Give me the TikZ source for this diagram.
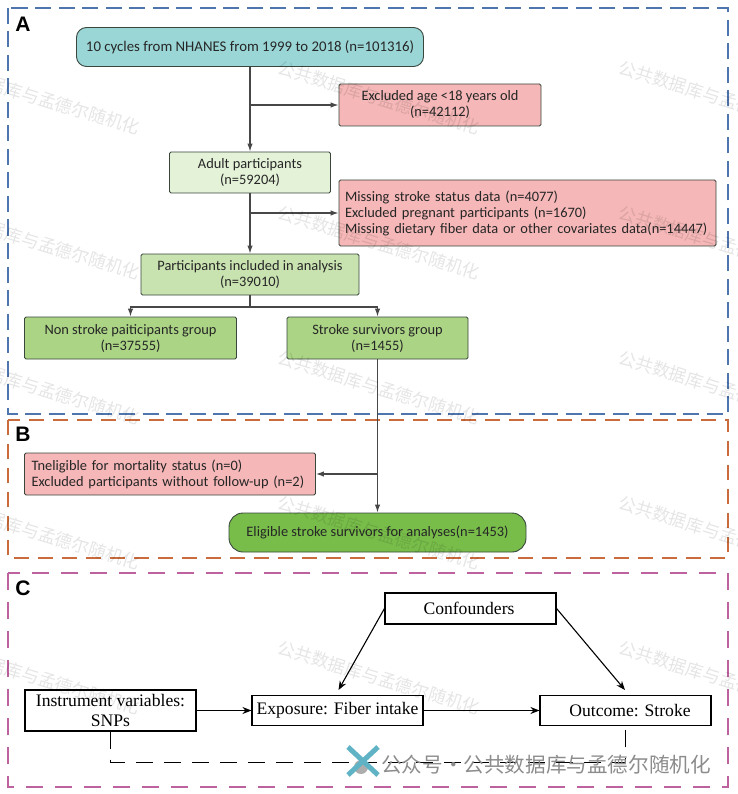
\documentclass[tikz,border=0pt]{standalone}
\usepackage{fontspec}
\setmainfont{Carlito}
\newfontfamily\timesfont{Liberation Serif}
\newfontfamily\labelfont{Liberation Sans}
\newfontfamily\cjkfont{Noto Sans CJK SC}
\usetikzlibrary{arrows.meta,calc}
\definecolor{framea}{HTML}{4F75AE}
\definecolor{frameb}{HTML}{C96B3C}
\definecolor{framec}{HTML}{BD619F}
\definecolor{fillstart}{HTML}{9BD6D6}
\definecolor{fillexcl}{HTML}{F5B7B7}
\definecolor{filladult}{HTML}{E4F2D8}
\definecolor{fillincl}{HTML}{C8E2B0}
\definecolor{fillgroup}{HTML}{ABD585}
\definecolor{fillfinal}{HTML}{78BD4A}
\definecolor{edgecol}{HTML}{38463C}
\definecolor{logoblue}{HTML}{5FB3C4}
\tikzset{
  panel/.style={line width=1.1pt,dash pattern=on 16pt off 7.5pt},
  panellabel/.style={font=\labelfont\bfseries\fontsize{21}{21}\selectfont,anchor=center},
  flowbox/.style={draw=edgecol,line width=.9pt,rounded corners=1.5pt,align=center,inner sep=0pt,
    text=black!85,font=\fontsize{14.4}{16}\selectfont},
  mrbox/.style={draw=black,line width=1.1pt,align=center,inner sep=0pt,
    font=\timesfont\fontsize{17.6}{20.5}\selectfont},
  flowline/.style={draw=black!72,line width=1.2pt},
  flowarrow/.style={flowline,-{Latex[length=8pt,width=5.5pt]}},
  mrarrow/.style={line width=1.1pt,-{Stealth[length=9pt,width=7pt]}},
  wmark/.style={text opacity=.10,rotate=-17,font=\cjkfont\fontsize{17.5}{17.5}\selectfont}
}
\begin{document}
\begin{tikzpicture}[x=1pt,y=-1pt]
\useasboundingbox (0,0) rectangle (737,794);
\draw [panel,framea] (8,8) rectangle (728,414);
\draw [panel,frameb,dash pattern=on 15pt off 9pt] (8,420) rectangle (728,558);
\draw [panel,framec,dash pattern=on 17pt off 12pt] (8,573) rectangle (728,787);
\node [panellabel] (labela) at (23,24) {A};
\node [panellabel] (labelb) at (23,434) {B};
\node [panellabel] (labelc) at (23,588) {C};

\node [flowbox,fill=fillstart,rounded corners=10pt,minimum width=347pt,minimum height=39pt,font=\fontsize{14.8}{16}\selectfont] (start) at (250,47)
  {10 cycles from NHANES from 1999 to 2018 (n=101316)};
\node [flowbox,fill=fillexcl,minimum width=202pt,minimum height=42pt] (exclage) at (440,105)
  {Excluded age <18 years old\\(n=42112)};
\node [flowbox,fill=filladult,minimum width=161pt,minimum height=41pt] (adult) at (250,172.5)
  {Adult participants\\(n=59204)};
\node [flowbox,fill=fillexcl,minimum width=377pt,minimum height=66pt,align=left,text width=365pt] (exclmiss) at (527.5,213)
  {Missing stroke status data (n=4077)\\Excluded pregnant participants (n=1670)\\Missing dietary fiber data or other covariates data(n=14447)};
\node [flowbox,fill=fillincl,minimum width=218pt,minimum height=41pt] (incl) at (250,274.5)
  {Participants included in analysis\\(n=39010)};
\node [flowbox,fill=fillgroup,minimum width=212pt,minimum height=42pt] (nonstroke) at (130.5,338)
  {Non stroke paiticipants group\\(n=37555)};
\node [flowbox,fill=fillgroup,minimum width=181pt,minimum height=42pt] (survivors) at (377.5,338)
  {Stroke survivors group\\(n=1455)};
\node [flowbox,fill=fillexcl,minimum width=291pt,minimum height=42pt,align=left,text width=277pt] (inelig) at (170,474)
  {Tneligible for mortality status (n=0)\\Excluded participants without follow-up (n=2)};
\node [flowbox,fill=fillfinal,rounded corners=14pt,minimum width=297pt,minimum height=39pt] (final) at (377.5,532.5)
  {Eligible stroke survivors for analyses(n=1453)};

\coordinate (agebranch) at (250,105);
\coordinate (missbranch) at (250,213);
\coordinate (splitpoint) at (250,307);
\coordinate (inelbranch) at (377.5,474);
\draw [flowarrow] (start) -- (adult);
\draw [flowarrow] (agebranch) -- (exclage);
\draw [flowarrow] (adult) -- (incl);
\draw [flowarrow] (missbranch) -- (exclmiss);
\draw [flowline] (incl) -- (splitpoint);
\draw [flowarrow] (splitpoint) -| (nonstroke);
\draw [flowarrow] (splitpoint) -| (survivors);
\draw [flowarrow] (survivors) -- (final);
\draw [flowarrow] (inelbranch) -- (inelig);

\node [mrbox,minimum width=171pt,minimum height=31pt] (confound) at (470.5,608.5) {Confounders\hspace*{3pt}};
\node [mrbox,minimum width=171pt,minimum height=41pt] (instrument) at (110.5,710.5) {Instrument variables:\\SNPs};
\node [mrbox,minimum width=171pt,minimum height=30pt] (exposure) at (337.5,710.5) {Exposure: Fiber intake};
\node [mrbox,minimum width=171pt,minimum height=30pt] (outcome) at (625.5,710.5) {\hspace*{9pt}Outcome: Stroke};
\coordinate (exphead) at (338.5,690);
\coordinate (outhead) at (625,690);
\coordinate (dashleft) at (110.5,762);
\coordinate (dashright) at (625.5,762);
\draw [mrarrow] (instrument) -- (exposure);
\draw [mrarrow] (exposure) -- (outcome);
\draw [mrarrow] (confound.west) -- (exphead);
\draw [mrarrow] (confound.east) -- (outhead);
\draw [line width=1pt,dash pattern=on 17pt off 11pt] (instrument) -- (dashleft) -- (dashright) -- (outcome);

\foreach \px/\pname in {39/a,379/b,720/c}
  \foreach \py/\qname in {98/a,243/b,388/c,533/d,678/e}
    \node [wmark] (wm\pname\qname) at (\px,\py) {公共数据库与孟德尔随机化};

\fill [black!40,opacity=.8] (361,767) circle (7pt);
\draw [line width=5pt,logoblue] (348,747) -- (378,775);
\draw [line width=5pt,logoblue] (378,747) -- (348,775);
\node [anchor=west,inner sep=0pt,text=black!45,font=\cjkfont\fontsize{20.6}{20.6}\selectfont] (wmfoot) at (381,765) {公众号·公共数据库与孟德尔随机化};
\end{tikzpicture}
\end{document}
